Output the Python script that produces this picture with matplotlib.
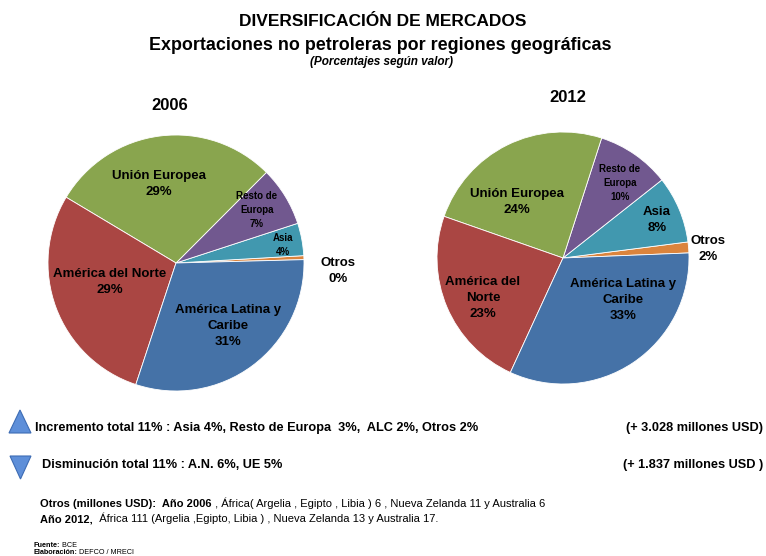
import matplotlib
matplotlib.use("Agg")
import matplotlib.pyplot as plt
from matplotlib import font_manager
from matplotlib.patches import Polygon

# fuente estrecha si existe
names = {f.name for f in font_manager.fontManager.ttflist}
NARROW = 'Liberation Sans Narrow' if 'Liberation Sans Narrow' in names else 'Liberation Sans'
plt.rcParams['font.family'] = [NARROW, 'DejaVu Sans']

# datos
regiones = ['Otros', 'Asia', 'Resto de Europa', 'Unión Europea', 'América del Norte', 'América Latina y Caribe']
colores = ['#DB843D', '#4198AF', '#71588F', '#89A54E', '#AA4643', '#4572A7']
valores_2006 = [0.5, 4.1, 7.5, 28.9, 28.5, 30.5]
etiquetas_2006 = ['0%', '4%', '7%', '29%', '29%', '31%']
valores_2012 = [1.4, 8.6, 9.4, 24.6, 23.5, 32.5]
etiquetas_2012 = ['2%', '8%', '10%', '24%', '23%', '33%']

W, H = 766, 556
fig = plt.figure(figsize=(W / 100, H / 100), dpi=100)


def pastel(cx, cy, r, valores, inicio):
    ax = fig.add_axes([(cx - r) / W, (H - cy - r) / H, 2 * r / W, 2 * r / H])
    ax.pie(valores, colors=colores, startangle=inicio, counterclock=True,
           wedgeprops=dict(edgecolor='white', linewidth=0.6))
    ax.set_xlim(-1.0, 1.0)
    ax.set_ylim(-1.0, 1.0)
    ax.set_aspect('equal')
    ax.axis('off')
    return ax


pastel(176, 263, 128, valores_2006, 1.5)
pastel(563, 258, 126, valores_2012, 2.3)

# capa de textos en pixeles, encima de los pasteles
bg = fig.add_axes([0, 0, 1, 1], zorder=10)
bg.set_xlim(0, W)
bg.set_ylim(H, 0)
bg.axis('off')
bg.patch.set_alpha(0)

# titulos
bg.text(383, 22, 'DIVERSIFICACIÓN DE MERCADOS', ha='center', va='center', fontsize=12.5, fontweight='bold')
bg.text(380, 45, 'Exportaciones no petroleras por regiones geográficas', ha='center', va='center', fontsize=12.9, fontweight='bold')
bg.text(381, 62, '(Porcentajes según valor)', ha='center', va='center', fontsize=8.5, fontweight='bold', style='italic')
bg.text(170, 105, '2006', ha='center', va='center', fontsize=12, fontweight='bold')
bg.text(568, 98, '2012', ha='center', va='center', fontsize=12, fontweight='bold')

# etiquetas 2006 (pixeles)
pos_2006 = [(338, 271), (283, 245), (257, 210), (159, 184), (110, 282), (228, 326)]
txt_2006 = ['Otros', 'Asia', 'Resto de\nEuropa', 'Unión Europea', 'América del Norte', 'América Latina y\nCaribe']
tam_2006 = [9.5, 7, 7, 9.5, 9.5, 9.5]
for (x, y), t, e, s in zip(pos_2006, txt_2006, etiquetas_2006, tam_2006):
    bg.text(x, y, t + '\n' + e, ha='center', va='center', fontsize=s, fontweight='bold',
            linespacing=1.55 if s < 8 else 1.45)

pos_2012 = [(708, 249), (657, 220), (620, 183), (517, 202), (483, 298), (623, 300)]
txt_2012 = ['Otros', 'Asia', 'Resto de\nEuropa', 'Unión Europea', 'América del\nNorte', 'América Latina y\nCaribe']
tam_2012 = [9.5, 9.5, 7, 9.5, 9.5, 9.5]
for (x, y), t, e, s in zip(pos_2012, txt_2012, etiquetas_2012, tam_2012):
    bg.text(x, y, t + '\n' + e, ha='center', va='center', fontsize=s, fontweight='bold',
            linespacing=1.55 if s < 8 else 1.45)

# triangulos
bg.add_patch(Polygon([(9, 433), (20, 410), (31, 433)], closed=True, facecolor='#5E8FD9', edgecolor='#3D6CB4', lw=0.8))
bg.add_patch(Polygon([(10, 456), (31, 456), (20.5, 479)], closed=True, facecolor='#5E8FD9', edgecolor='#3D6CB4', lw=0.8))

bg.text(35, 428, 'Incremento total 11% : Asia 4%, Resto de Europa  3%,  ALC 2%, Otros 2%',
        ha='left', va='center', fontsize=9.2, fontweight='bold')
bg.text(763, 428, '(+ 3.028 millones USD)', ha='right', va='center', fontsize=9.2, fontweight='bold')
bg.text(42, 465, 'Disminución total 11% : A.N. 6%, UE 5%', ha='left', va='center', fontsize=9.2, fontweight='bold')
bg.text(763, 465, '(+ 1.837 millones USD )', ha='right', va='center', fontsize=9.2, fontweight='bold')


def linea(x, y, partes, size):
    prev = None
    for texto, peso in partes:
        if prev is None:
            prev = bg.text(x, y, texto, ha='left', va='baseline', fontsize=size, fontweight=peso)
        else:
            prev = bg.annotate(texto, xy=(1, 0), xycoords=prev, ha='left', va='bottom',
                               fontsize=size, fontweight=peso)


linea(40, 507, [('Otros (millones USD):  Año 2006', 'bold'),
                (' , África( Argelia , Egipto , Libia ) 6 , Nueva Zelanda 11 y Australia 6', 'normal')], 8)
linea(40, 522, [('Año 2012,', 'bold'),
                ('  África 111 (Argelia ,Egipto, Libia ) , Nueva Zelanda 13 y Australia 17.', 'normal')], 8)
linea(33, 547, [('Fuente:', 'bold'), (' BCE', 'normal')], 5.2)
linea(33, 554, [('Elaboración:', 'bold'), (' DEFCO / MRECI', 'normal')], 5.2)

fig.savefig('out.png', dpi=100)
